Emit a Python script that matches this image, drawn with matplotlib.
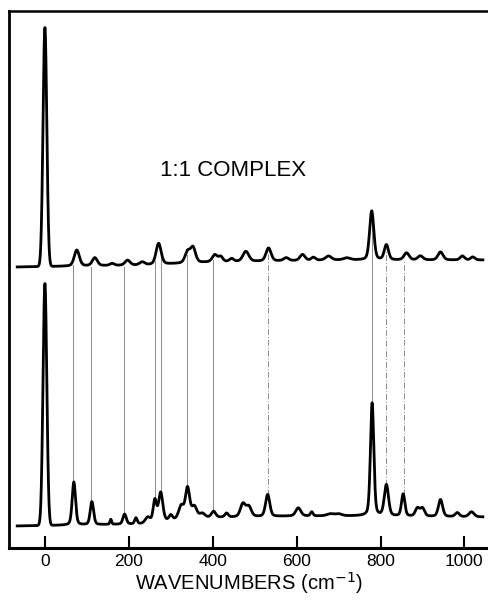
"""Raman spectra: 1:1 complex (top) vs reference (bottom) with correlation lines."""

import matplotlib

matplotlib.use("Agg")
import matplotlib.pyplot as plt
import numpy as np

# peaks: centre (cm-1), height, half-width
upper_pos = [0, 76, 119, 160, 197, 232, 271, 340, 353, 405, 419, 445, 479, 533, 575, 614,
             640, 676, 720, 779, 814, 862, 895, 943, 995, 1020]
upper_amp = [239, 16, 8, 2, 5, 3, 21, 11, 15, 7, 5, 3, 10, 13, 3, 6, 3, 4, 2, 49, 15, 7, 4, 8, 4, 3]
upper_wid = [4.5, 6, 6, 5, 6, 6, 6, 6, 6, 6, 5, 5, 7, 6, 6, 6, 5, 7, 8, 5, 5, 6, 6, 6, 5, 5]
upper_base_x = [-70, 240, 400, 700, 1050]
upper_base_y = [281, 283, 286, 288, 288]

lower_pos = [0, 69, 112, 157, 190, 217, 245, 262, 276, 300, 325, 340, 356, 375, 402, 433,
             472, 486, 531, 604, 636, 680, 700, 780, 814, 854, 888, 900, 943, 983, 1017]
lower_amp = [242, 43, 23, 5, 10, 6, 6, 22, 29, 5, 13, 30, 11, 4, 6, 4, 13, 10, 22, 8, 4,
             2, 2, 113, 31, 22, 8, 8, 17, 4, 5]
lower_wid = [4.5, 4, 4, 2, 4, 3, 6, 4, 5, 4, 6, 5, 6, 6, 5, 4, 6, 6, 5, 6, 3, 8, 8, 4,
             5, 4, 5, 5, 5, 5, 6]
lower_base_x = [-70, 240, 350, 600, 760, 1050]
lower_base_y = [22, 24, 30, 32, 32, 31]

# correlation lines and which are drawn broken
link_pos = [67, 110, 189, 262, 276, 339, 401, 532, 779, 813, 855]
link_dashed = [False, False, False, False, False, False, False, True, False, True, True]

x_ticks = [0, 200, 400, 600, 800, 1000]


def spectrum(x, pos, amp, wid, base_x, base_y):
    y = np.interp(x, base_x, base_y)
    for p, a, w in zip(pos, amp, wid):
        g = np.exp(-0.5 * ((x - p) / w) ** 2)
        lor = 1.0 / (1.0 + ((x - p) / (1.2 * w)) ** 2)
        mix = 0.0 if p == 0 else 0.3
        y = y + a * ((1 - mix) * g + mix * lor)
    return y


def main() -> None:
    x = np.linspace(-66, 1044, 3000)
    y_up = spectrum(x, upper_pos, upper_amp, upper_wid, upper_base_x, upper_base_y)
    y_lo = spectrum(x, lower_pos, lower_amp, lower_wid, lower_base_x, lower_base_y)

    plt.rcParams["font.family"] = ["Liberation Sans", "DejaVu Sans"]
    fig = plt.figure(figsize=(4.89, 6.0), dpi=100)
    ax = fig.add_axes([9 / 489, 52 / 600, 480 / 489, 537 / 600])

    for p, dashed in zip(link_pos, link_dashed):
        top = np.interp(p, x, y_up) - 4
        bot = np.interp(p, x, y_lo)
        ax.plot([p, p], [bot, top], color="0.55", lw=0.7,
                ls=(0, (6, 2, 1, 2)) if dashed else "-", zorder=1)

    ax.plot(x, y_up, color="black", lw=2.0, zorder=3)
    ax.plot(x, y_lo, color="black", lw=2.0, zorder=3)

    ax.text(274, 378, "1:1 COMPLEX", fontsize=16, ha="left", va="center")

    ax.set_xlim(-85.6, 1058.6)
    ax.set_ylim(0, 537)
    ax.set_xticks(x_ticks)
    ax.set_xticklabels([str(t) for t in x_ticks], fontsize=12.5)
    ax.set_yticks([])
    ax.tick_params(axis="x", direction="in", length=9, width=1.5, pad=4)
    ax.set_xlabel("WAVENUMBERS (cm$^{-1}$)", fontsize=14.5, labelpad=1)
    ax.spines["right"].set_visible(False)
    ax.spines["left"].set_linewidth(2.0)
    ax.spines["bottom"].set_linewidth(2.2)
    ax.spines["top"].set_linewidth(1.8)

    fig.savefig("out.png", dpi=100)


if __name__ == "__main__":
    main()
